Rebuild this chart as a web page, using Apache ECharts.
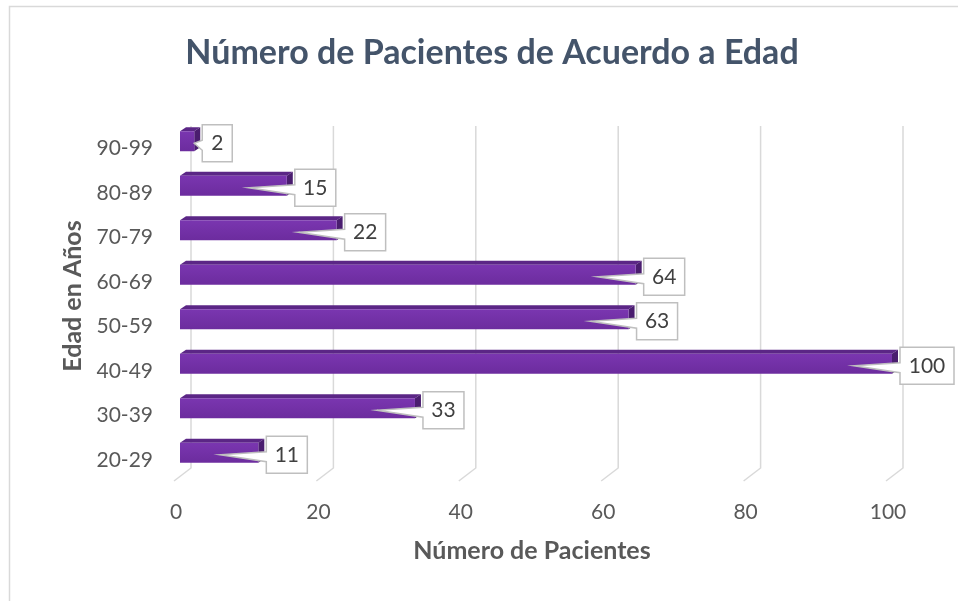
<!DOCTYPE html>
<html>
<head>
<meta charset="utf-8">
<script src="https://cdn.jsdelivr.net/npm/echarts@6/dist/echarts.min.js"></script>
<style>
html,body{margin:0;padding:0;background:#fff}
#main{width:958px;height:601px}
</style>
</head>
<body>
<div id="main"></div>
<script>
// datos
var edades = ['20-29','30-39','40-49','50-59','60-69','70-79','80-89','90-99'];
var pacientes = [11, 33, 100, 63, 64, 22, 15, 2];
var ticksX = [0, 20, 40, 60, 80, 100];

var fuente = 'Lato';
var gris = '#595959';

// barras con efecto 3d + etiqueta tipo globo
function renderBar(params, api) {
    var val = api.value(0), cat = api.value(1);
    var p0 = api.coord([0, cat]);
    var p1 = api.coord([val, cat]);
    var x0 = p0[0] + 4, x1 = p1[0] + 4;
    var cy = p0[1] - 7;
    var h = 20, top = cy - h / 2, bot = cy + h / 2;
    var dx = 6, dy = 4;

    var txt = String(val);
    var bw = txt.length === 1 ? 30 : (txt.length === 2 ? 41 : 54);
    var bh = 37;
    var bx = x1 + 8, by = cy + 2 - bh / 2, bc = cy + 2;
    var len = x1 - x0;
    var tipX = x1 - Math.min(38, Math.max(0, len - 40));
    var tipY = cy + 2;

    return {
        type: 'group',
        children: [
            {
                type: 'polygon',
                shape: {points: [[x0, top], [x0 + dx, top - dy], [x1 + dx, top - dy], [x1, top]]},
                style: {fill: '#5b2686'}
            },
            {
                type: 'polygon',
                shape: {points: [[x1, top], [x1 + dx, top - dy], [x1 + dx, bot - dy], [x1, bot]]},
                style: {fill: '#4a1d6f'}
            },
            {
                type: 'rect',
                shape: {x: x0, y: top, width: len, height: h},
                style: {
                    fill: new echarts.graphic.LinearGradient(0, 0, 0, 1, [
                        {offset: 0, color: '#7a36b0'},
                        {offset: 1, color: '#6c2c9e'}
                    ])
                }
            },
            {
                type: 'polygon',
                shape: {points: [[bx, by], [bx + bw, by], [bx + bw, by + bh], [bx, by + bh],
                                 [bx, bc + 7], [tipX, tipY], [bx, bc - 3]]},
                style: {fill: '#fff', stroke: '#bfbfbf', lineWidth: 1.5}
            },
            {
                type: 'text',
                style: {
                    x: bx + bw / 2, y: bc, text: txt,
                    align: 'center', verticalAlign: 'middle',
                    fontFamily: fuente, fontSize: 21, fill: '#404040'
                }
            }
        ]
    };
}

// lineas de division con perspectiva
function renderGrid(params, api) {
    var p = api.coord([api.value(0), 0]);
    var cs = params.coordSys;
    var top = cs.y, bottom = cs.y + cs.height;
    return {
        type: 'polyline',
        shape: {points: [[p[0] + 15, top], [p[0] + 15, bottom - 14], [p[0] - 2, bottom - 1]]},
        style: {stroke: '#d9d9d9', lineWidth: 1.5, fill: null}
    };
}

var option = {
    backgroundColor: '#fff',
    animation: false,
    title: {
        text: 'Número de Pacientes de Acuerdo a Edad',
        left: 487, top: 31, textAlign: 'center',
        textStyle: {fontFamily: fuente, fontSize: 34, fontWeight: 'bold', color: '#44546a'}
    },
    graphic: [{
        type: 'rect', silent: true,
        shape: {x: 9.5, y: 6.5, width: 960, height: 600},
        style: {fill: null, stroke: '#d9d9d9', lineWidth: 1.5}
    }],
    grid: {left: 176, width: 712, top: 126, height: 356},
    xAxis: {
        type: 'value', min: 0, max: 100, interval: 20,
        name: 'Número de Pacientes', nameLocation: 'middle', nameGap: 56,
        nameTextStyle: {fontFamily: fuente, fontSize: 25, fontWeight: 'bold', color: gris},
        axisLine: {show: false}, axisTick: {show: false}, splitLine: {show: false},
        axisLabel: {fontFamily: fuente, fontSize: 21, color: gris, margin: 20}
    },
    yAxis: {
        type: 'category', data: edades,
        name: 'Edad en Años', nameLocation: 'middle', nameGap: 89, nameRotate: 90,
        nameTextStyle: {fontFamily: fuente, fontSize: 25, fontWeight: 'bold', color: gris,
                        padding: [0, 0, 0, 16]},
        axisLine: {show: false}, axisTick: {show: false}, splitLine: {show: false},
        axisLabel: {fontFamily: fuente, fontSize: 21, color: gris, margin: 23}
    },
    series: [
        {
            type: 'custom', silent: true, clip: false, z: 1,
            renderItem: renderGrid,
            encode: {x: 0, y: 1},
            data: ticksX.map(function (v) { return [v, 0]; })
        },
        {
            type: 'custom', clip: false, z: 2,
            renderItem: renderBar,
            encode: {x: 0, y: 1},
            data: pacientes.map(function (v, i) { return [v, i]; })
        }
    ]
};

var chart = echarts.init(document.getElementById('main'));
chart.setOption(option);
</script>
</body>
</html>
